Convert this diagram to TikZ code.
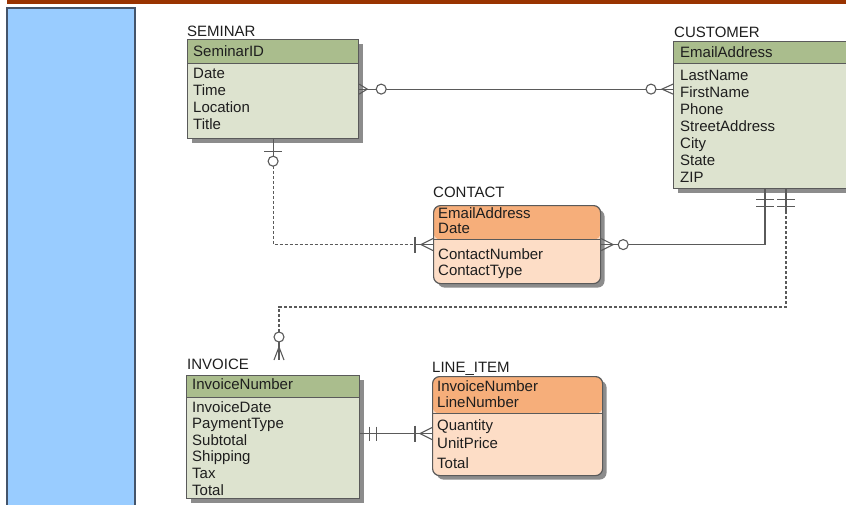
\documentclass[tikz,border=0pt]{standalone}
\usepackage{fontspec}
\setmainfont{Liberation Sans}
\usetikzlibrary{shadows,calc}

\definecolor{barred}{HTML}{993300}
\definecolor{sideblue}{HTML}{99CCFF}
\definecolor{sideedge}{HTML}{44546A}
\definecolor{hdrgreen}{HTML}{AABD8D}
\definecolor{bodygreen}{HTML}{DDE3CF}
\definecolor{hdrorange}{HTML}{F6AE7A}
\definecolor{bodyorange}{HTML}{FDDDC6}
\definecolor{edge}{HTML}{5A5A5A}
\definecolor{shade}{HTML}{8C8C8C}
\definecolor{ink}{HTML}{1E1E1E}

\tikzset{
  entity/.style={draw=edge, line width=1.2pt, anchor=north west, inner sep=0pt,
    general shadow={fill=shade, shadow xshift=4pt, shadow yshift=-4pt}},
  greenbox/.style={entity, fill=bodygreen,
    path picture={
      \fill[hdrgreen] (path picture bounding box.north west) rectangle ([yshift=-#1]path picture bounding box.north east);
      \draw[edge, line width=1.6pt] ([yshift=-#1]path picture bounding box.north west) -- ([yshift=-#1]path picture bounding box.north east);}},
  orangebox/.style={entity, fill=bodyorange, rounded corners=7pt,
    path picture={
      \fill[hdrorange] (path picture bounding box.north west) rectangle ([yshift=-#1]path picture bounding box.north east);
      \draw[edge, line width=1.6pt] ([yshift=-#1]path picture bounding box.north west) -- ([yshift=-#1]path picture bounding box.north east);}},
  txt/.style={anchor=base west, inner sep=0pt, text=ink, font=\fontsize{15}{17}\selectfont},
  rel/.style={draw=edge, line width=1.1pt},
  reldash/.style={rel, dash pattern=on 3pt off 2pt},
  opt/.style={rel, fill=white},
}

\begin{document}
\begin{tikzpicture}[x=1pt, y=-1pt]
\useasboundingbox (0,0) rectangle (846,504);

% page decoration
\fill[barred] (7,0) rectangle (860,4);
\filldraw[fill=sideblue, draw=sideedge, line width=1.5pt] (7,8) rectangle (135,530);

% entity boxes
\node[greenbox=24pt, minimum width=171pt, minimum height=99pt] (sem) at (187,39) {};
\node[greenbox=22pt, minimum width=185pt, minimum height=147pt] (cust) at (673,41) {};
\node[orangebox=34pt, minimum width=167pt, minimum height=78pt] (con) at (433,205) {};
\node[greenbox=22pt, minimum width=173pt, minimum height=123pt] (inv) at (186,375) {};
\node[orangebox=37pt, minimum width=170pt, minimum height=99pt] (li) at (432,376) {};

% entity titles
\node[txt] (sem-t) at (187,36) {SEMINAR};
\node[txt] (cust-t) at (674,37) {CUSTOMER};
\node[txt] (con-t) at (433,197) {CONTACT};
\node[txt] (inv-t) at (187,369) {INVOICE};
\node[txt] (li-t) at (432,372) {LINE\_ITEM};

% SEMINAR attributes
\node[txt] (sem-k) at (193,56) {SeminarID};
\foreach \t [count=\i] in {Date,Time,Location,Title}
  \node[txt] (sem-\i) at (193,{78+17*(\i-1)}) {\t};

% CUSTOMER attributes
\node[txt] (cust-k) at (680,57) {EmailAddress};
\foreach \t [count=\i] in {LastName,FirstName,Phone,StreetAddress,City,State,ZIP}
  \node[txt] (cust-\i) at (680,{80+17*(\i-1)}) {\t};

% CONTACT attributes
\node[txt] (con-k1) at (438,218) {EmailAddress};
\node[txt] (con-k2) at (438,233.5) {Date};
\node[txt] (con-1) at (438,259) {ContactNumber};
\node[txt] (con-2) at (438,275) {ContactType};

% INVOICE attributes
\node[txt] (inv-k) at (192,389) {InvoiceNumber};
\foreach \t [count=\i] in {InvoiceDate,PaymentType,Subtotal,Shipping,Tax,Total}
  \node[txt] (inv-\i) at (192,{412+16.6*(\i-1)}) {\t};

% LINE_ITEM attributes
\node[txt] (li-k1) at (437,391) {InvoiceNumber};
\node[txt] (li-k2) at (437,407) {LineNumber};
\node[txt] (li-1) at (437,430) {Quantity};
\node[txt] (li-2) at (437,448) {UnitPrice};
\node[txt] (li-3) at (437,468) {Total};

% SEMINAR -- CUSTOMER (many-to-many, optional)
\coordinate (c1b) at (sem.east -| cust.west);
\draw[rel] (sem.east) -- (c1b);
\draw[rel] (sem.east) ++(0,-5) -- ++(8,5) -- ++(-8,5);
\draw[opt] (sem.east) ++(22,0) circle[radius=5];
\draw[rel] (c1b) ++(0,-5) -- ++(-11,5) -- ++(11,5);
\draw[opt] (c1b) ++(-22,0) circle[radius=5];

% SEMINAR -- CONTACT (identifying, dashed)
\coordinate (c2m) at (sem.south |- con.west);
\draw[rel] (sem.south) -- ++(0,17);
\draw[rel] (sem.south) ++(-9,12) -- ++(18,0);
\draw[reldash] ([yshift=-27pt]sem.south) -- (c2m) -- ([xshift=-18pt]con.west);
\draw[opt] (sem.south) ++(0,22) circle[radius=5];
\draw[rel] ([xshift=-18pt]con.west) -- (con.west);
\draw[rel] (con.west) ++(-18,-8) -- ++(0,16);
\draw[rel] (con.west) ++(0,-6) -- ++(-12,6) -- ++(12,6);

% CUSTOMER -- CONTACT
\coordinate (c3a) at ([xshift=92pt]cust.south west);
\draw[rel] (c3a) |- (con.east);
\draw[rel] (c3a) ++(-9,10) -- ++(18,0);
\draw[rel] (c3a) ++(-9,17) -- ++(18,0);
\draw[rel] (con.east) ++(0,-6) -- ++(12,6) -- ++(-12,6);
\draw[opt] (con.east) ++(22,0) circle[radius=5];

% CUSTOMER -- INVOICE (dashed)
\coordinate (c4a) at ([xshift=113pt]cust.south west);
\coordinate (c4b) at ([xshift=93pt,yshift=15pt]inv.north west);
\coordinate (c4m) at ($(c4b)+(0,-53)$);
\draw[rel] (c4a) -- ++(0,22);
\draw[rel] (c4a) ++(-9,10) -- ++(18,0);
\draw[rel] (c4a) ++(-9,17) -- ++(18,0);
\draw[reldash] ([yshift=-22pt]c4a) |- (c4m) -- ([yshift=28pt]c4b);
\draw[rel] ([yshift=18pt]c4b) -- (c4b);
\draw[opt] (c4b) ++(0,-23) circle[radius=5];
\draw[rel] (c4b) ++(-5,0) -- ++(5,-13) -- ++(5,13);

% INVOICE -- LINE_ITEM
\coordinate (c5a) at ([yshift=3.5pt]inv.east);
\coordinate (c5b) at (c5a -| li.west);
\draw[rel] (c5a) -- (c5b);
\draw[rel] (c5a) ++(9,-7) -- ++(0,14);
\draw[rel] (c5a) ++(16,-7) -- ++(0,14);
\draw[rel] (c5b) ++(-17,-8) -- ++(0,16);
\draw[rel] (c5b) ++(0,-6) -- ++(-12,6) -- ++(12,6);
\end{tikzpicture}
\end{document}
